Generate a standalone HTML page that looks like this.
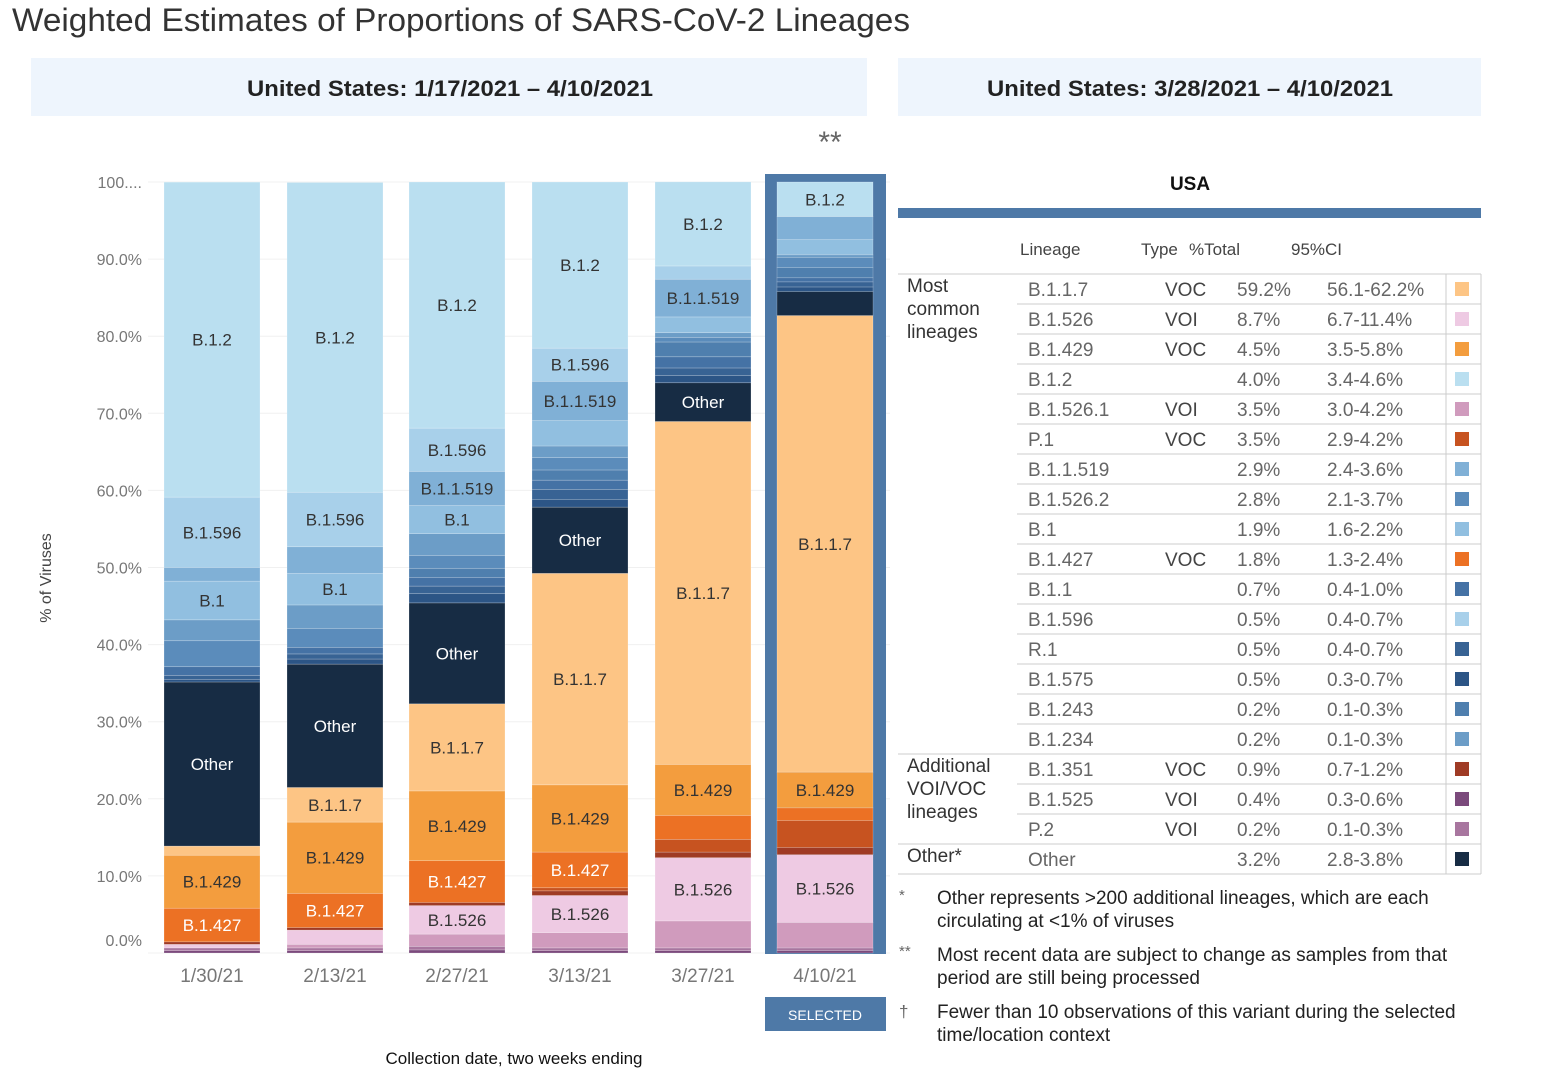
<!DOCTYPE html>
<html><head><meta charset="utf-8">
<style>
html,body{margin:0;padding:0;background:#fff;}
svg{display:block;font-family:"Liberation Sans",sans-serif;}
</style></head>
<body>
<svg id="svg" width="1542" height="1084" viewBox="0 0 1542 1084" xmlns="http://www.w3.org/2000/svg">
<text x="12" y="31" font-size="32" fill="#333" textLength="898" lengthAdjust="spacingAndGlyphs">Weighted Estimates of Proportions of SARS-CoV-2 Lineages</text>
<rect x="31" y="58" width="836" height="58" fill="#eef5fd"/>
<text x="247" y="96" font-size="22" font-weight="bold" fill="#222" textLength="406" lengthAdjust="spacingAndGlyphs">United States: 1/17/2021 – 4/10/2021</text>
<rect x="898" y="58" width="583" height="58" fill="#eef5fd"/>
<text x="987" y="96" font-size="22" font-weight="bold" fill="#222" textLength="406" lengthAdjust="spacingAndGlyphs">United States: 3/28/2021 – 4/10/2021</text>
<text x="830" y="152" font-size="30" fill="#666" text-anchor="middle">**</text>
<g id="grid"></g>
<g id="yaxis"></g>
<text transform="translate(51,578) rotate(-90)" font-size="16" fill="#444" text-anchor="middle">% of Viruses</text>
<rect x="765" y="174" width="121" height="780" fill="#4e79a7"/>
<g id="bars"></g>
<g id="xaxis"></g>
<text x="514" y="1064" font-size="17" fill="#111" text-anchor="middle">Collection date, two weeks ending</text>
<rect x="765" y="997" width="121" height="34" fill="#4e79a7"/>
<text x="825" y="1020" font-size="14" fill="#fff" text-anchor="middle">SELECTED</text>
<text x="1190" y="190" font-size="19" font-weight="bold" fill="#111" text-anchor="middle">USA</text>
<rect x="898" y="208" width="583" height="10" fill="#4e79a7"/>
<g font-size="17" fill="#444">
<text x="1020" y="255">Lineage</text><text x="1141" y="255">Type</text><text x="1189" y="255">%Total</text><text x="1291" y="255">95%CI</text>
</g>
<g id="table"></g>
<g font-size="19" fill="#222">
<text x="899" y="900" font-size="15" fill="#666">*</text>
<text x="937" y="904">Other represents &gt;200 additional lineages, which are each</text>
<text x="937" y="927">circulating at &lt;1% of viruses</text>
<text x="899" y="956" font-size="15" fill="#666">**</text>
<text x="937" y="961">Most recent data are subject to change as samples from that</text>
<text x="937" y="984">period are still being processed</text>
<text x="899" y="1017" font-size="17" fill="#666">†</text>
<text x="937" y="1018">Fewer than 10 observations of this variant during the selected</text>
<text x="937" y="1041">time/location context</text>
</g>
</svg>
<script>
const dates = ["1/30/21","2/13/21","2/27/21","3/13/21","3/27/21","4/10/21"];
const yTicks = [0,10,20,30,40,50,60,70,80,90,100];
const yTickLabels = ["0.0%","10.0%","20.0%","30.0%","40.0%","50.0%","60.0%","70.0%","80.0%","90.0%","100...."];
const seriesNames = ["B.1.525","P.2","B.1.526.1","B.1.526","B.1.351","P.1","B.1.427","B.1.429","B.1.1.7","Other","B.1.575","R.1","B.1.1","B.1.243","B.1.526.2","B.1.234","B.1","B.1.1.519","B.1.596","B.1.2"];
const vB1525 = [0.3,0.3,0.4,0.3,0.3,0.3];
const vP2 = [0.36,0.36,0.46,0.36,0.36,0.36];
const vB15261 = [0,0.46,1.59,1.98,3.5,3.3];
const vB1526 = [0.46,1.85,3.7,4.82,8.2,8.79];
const vB1351 = [0.33,0.33,0.4,0.6,0.73,0.93];
const vP1 = [0,0,0,0.4,1.65,3.5];
const vB1427 = [4.36,4.43,5.42,4.63,3.11,1.65];
const vB1429 = [6.87,9.25,9.05,8.72,6.61,4.63];
const vB117 = [1.19,4.49,11.3,27.43,44.48,59.22];
const vOther = [21.28,16.0,13.09,8.59,5.02,3.11];
const vB1575 = [0.33,0.66,1.19,0.99,0.93,0.6];
const vR1 = [0.53,0.66,0.99,1.32,0.99,0.66];
const vB11 = [1.12,0.86,1.12,1.19,1.45,0.53];
const vB1243 = [0,0,1.19,1.32,1.92,1.32];
const vB15262 = [3.37,2.45,1.65,1.59,0.6,1.32];
const vB1234 = [2.71,3.04,2.84,1.52,0.6,0.34];
const vB1 = [5.02,4.1,3.64,3.3,2.05,1.98];
const vB11519 = [1.78,3.45,4.43,5.09,4.89,2.97];
const vB1596 = [9.12,7.07,5.62,4.3,1.72,0];
const vB12 = [40.85,40.18,31.92,21.55,10.91,4.49];
const seriesValues = [vB1525,vP2,vB15261,vB1526,vB1351,vP1,vB1427,vB1429,vB117,vOther,vB1575,vR1,vB11,vB1243,vB15262,vB1234,vB1,vB11519,vB1596,vB12];
const tLineage = ["B.1.1.7","B.1.526","B.1.429","B.1.2","B.1.526.1","P.1","B.1.1.519","B.1.526.2","B.1","B.1.427","B.1.1","B.1.596","R.1","B.1.575","B.1.243","B.1.234","B.1.351","B.1.525","P.2","Other"];
const tType = ["VOC","VOI","VOC","","VOI","VOC","","","","VOC","","","","","","","VOC","VOI","VOI",""];
const tTotal = ["59.2%","8.7%","4.5%","4.0%","3.5%","3.5%","2.9%","2.8%","1.9%","1.8%","0.7%","0.5%","0.5%","0.5%","0.2%","0.2%","0.9%","0.4%","0.2%","3.2%"];
const tCI = ["56.1-62.2%","6.7-11.4%","3.5-5.8%","3.4-4.6%","3.0-4.2%","2.9-4.2%","2.4-3.6%","2.1-3.7%","1.6-2.2%","1.3-2.4%","0.4-1.0%","0.4-0.7%","0.4-0.7%","0.3-0.7%","0.1-0.3%","0.1-0.3%","0.7-1.2%","0.3-0.6%","0.1-0.3%","2.8-3.8%"];

const colors = {"B.1.525":"#7b4a7c","P.2":"#a8769f","B.1.526.1":"#d09bbd","B.1.526":"#eecae3","B.1.351":"#9f3b25","P.1":"#c75320","B.1.427":"#ec7124","B.1.429":"#f39d3e","B.1.1.7":"#fdc585","Other":"#172c44","B.1.575":"#2c5586","R.1":"#386394","B.1.1":"#4572a5","B.1.243":"#4f7fae","B.1.526.2":"#5b8cbb","B.1.234":"#6c9dc7","B.1":"#91bfe0","B.1.1.519":"#80b0d6","B.1.596":"#a8d0ea","B.1.2":"#badff0"};
const labeled = ["B.1.2","B.1.596","B.1.1.519","B.1","Other","B.1.1.7","B.1.429","B.1.427","B.1.526"];
const whiteText = ["Other","B.1.427"];
const NS="http://www.w3.org/2000/svg";
const Y0=953, PX=7.71;
function yScale(v){return Y0 - v*PX;}
const barX=[164,287,409,532,655,777], BW=96;
function xScale(i){return barX[i];}
function mk(tag,attrs,parent){const e=document.createElementNS(NS,tag);for(const k in attrs)e.setAttribute(k,attrs[k]);parent.appendChild(e);return e;}
const grid=document.getElementById('grid'), yaxis=document.getElementById('yaxis');
yTicks.forEach((t,i)=>{
  const ln=mk('line',{x1:148,x2:890,y1:yScale(t),y2:yScale(t),stroke:"#f0f0f0","stroke-width":1},grid);
  
  
  const tx=mk('text',{x:142,y:(t===0?yScale(t)-7:yScale(t)+6),"font-size":16,fill:"#777","text-anchor":"end"},yaxis);
  tx.textContent=yTickLabels[i];
  
  
});
const bars=document.getElementById('bars'), xaxis=document.getElementById('xaxis');
dates.forEach((d,i)=>{
  let cum=0;
  seriesNames.forEach((n,s)=>{
    const v=seriesValues[s][i]; if(v<=0) return;
    const y1=yScale(cum+v), y2=yScale(cum);
    const r=mk('rect',{x:xScale(i),y:y1,width:BW,height:y2-y1,fill:colors[n],stroke:"#fff","stroke-opacity":0.35,"stroke-width":0.6},bars);
    
    
    if(labeled.includes(n) && v>=3.5){
      const t=mk('text',{x:xScale(i)+BW/2,y:(y1+y2)/2+6,"font-size":17,fill:whiteText.includes(n)?"#fff":"#333","text-anchor":"middle"},bars);
      t.textContent=n;
      
      
    }
    cum+=v;
  });
  const xl=mk('text',{x:xScale(i)+BW/2,y:982,"font-size":19,fill:"#777","text-anchor":"middle"},xaxis);
  xl.textContent=d;
  
  
});
const table=document.getElementById('table');
const RY=274, RH=30;
mk('line',{x1:898,x2:1481,y1:RY,y2:RY,stroke:"#ccc"},table);
mk('line',{x1:1446,x2:1446,y1:RY,y2:RY+20*RH,stroke:"#ccc"},table);
mk('line',{x1:1481,x2:1481,y1:RY,y2:RY+20*RH,stroke:"#ccc"},table);
tLineage.forEach((l,i)=>{
  const y=RY+i*RH;
  const g=mk('g',{},table);
  
  
  const full=(i===15||i===18||i===19);
  mk('line',{x1:full?898:1017,x2:1481,y1:y+RH,y2:y+RH,stroke:"#ccc"},g);
  const cells=[[1028,l],[1165,tType[i]],[1237,tTotal[i]],[1327,tCI[i]]];
  cells.forEach((c,k)=>{
    const t=mk('text',{x:c[0],y:y+22,"font-size":19,fill:k===1?"#444":"#666"},g);
    t.textContent=c[1];
  });
  const key=l;
  const sw=mk('rect',{x:1455,y:y+8,width:14,height:14,fill:colors[key]||"#6c9dc7"},g);
  
  
});
const groups=[["Most","common","lineages",RY],["Additional","VOI/VOC","lineages",RY+16*RH],["Other*","","",RY+19*RH]];
groups.forEach(gp=>{
  [0,1,2].forEach(k=>{ if(!gp[k])return;
    const t=mk('text',{x:907,y:gp[3]+18+k*23,"font-size":19,fill:"#333"},table);
    t.textContent=gp[k];
    
    
  });
});
</script>
</body></html>
